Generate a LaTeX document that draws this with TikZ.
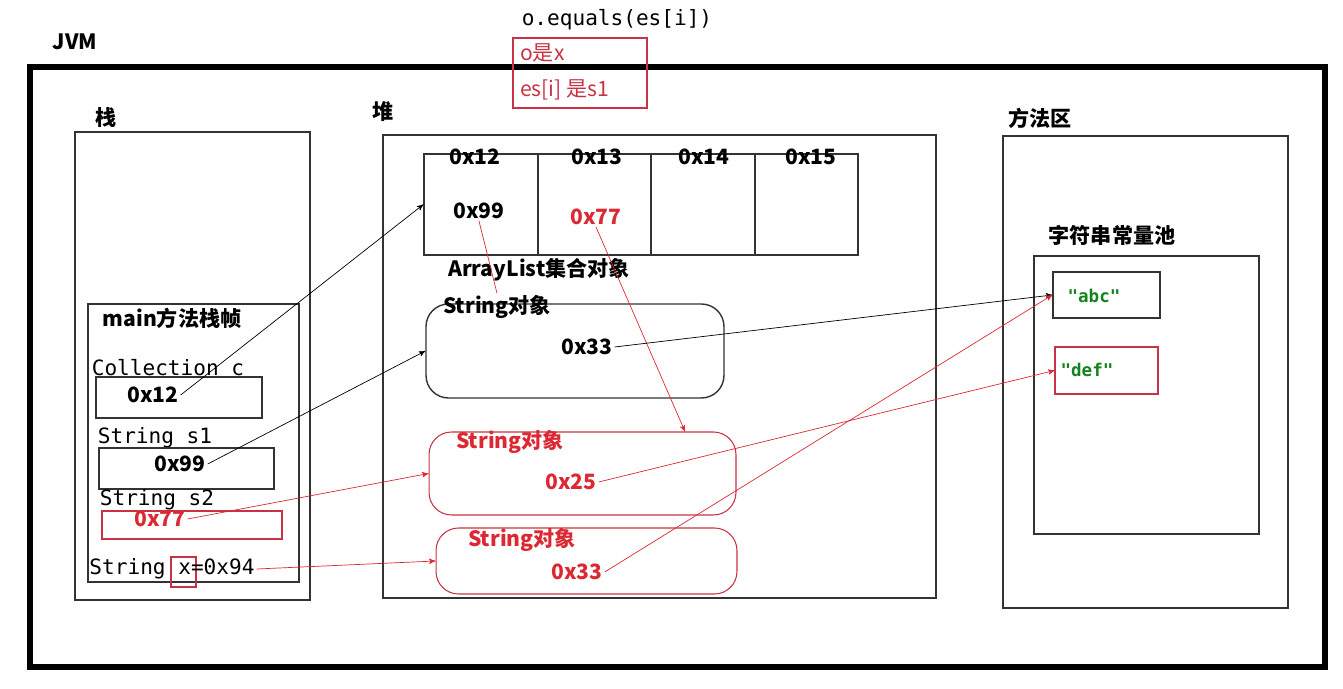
\documentclass[tikz,border=0pt]{standalone}
\usepackage{fontspec}
\setmainfont{Noto Sans CJK SC}
\newfontfamily\monofont{DejaVu Sans Mono}
\usetikzlibrary{arrows}
\definecolor{memred}{RGB}{220,40,50}
\definecolor{boxred}{RGB}{200,50,70}
\definecolor{strgreen}{RGB}{20,130,30}
\tikzstyle{frame} = [rectangle, draw=black!80, line width=0.8pt, inner sep=0pt]
\tikzstyle{redframe} = [rectangle, draw=boxred, line width=0.6pt, inner sep=0pt]
\tikzstyle{strobj} = [rectangle, rounded corners=0.45cm, draw=black!80, line width=0.8pt, inner sep=0pt]
\tikzstyle{redobj} = [rectangle, rounded corners=0.45cm, draw=boxred, line width=0.6pt, inner sep=0pt]
\tikzstyle{lbl} = [font=\large\bfseries, inner sep=1pt]
\tikzstyle{redlbl} = [font=\large\bfseries, text=memred, inner sep=1pt]
\tikzstyle{mono} = [font=\monofont\large, inner sep=1pt]
\tikzstyle{arrow} = [->,>=stealth', thin]
\tikzstyle{redarrow} = [->,>=stealth', thin, draw=memred]
\begin{document}
\begin{tikzpicture}[x=0.02cm, y=-0.02cm]
	\useasboundingbox (0,0) rectangle (1343,689);
	
	\node (jvm) [lbl] at (75,42) {JVM};
	\node (outer) [rectangle, draw=black, line width=3.4pt, minimum width=25.9cm, minimum height=12cm] at (677.5,367) {};
	\node (equalsCall) [mono] at (617,20) {o.equals(es[i])};
	\node (note) [redframe, minimum width=2.68cm, minimum height=1.4cm] at (580,73) {};
	\node (noteA) [text=boxred, anchor=west, font=\large] at (514,53) {o是x};
	\node (noteB) [text=boxred, anchor=west, font=\large] at (514,90) {es[i] 是s1};
	
	% stack
	\node (stackLbl) [lbl] at (106,118) {栈};
	\node (stack) [frame, minimum width=4.7cm, minimum height=9.36cm] at (192.5,366) {};
	\node (mainFrame) [frame, minimum width=4.22cm, minimum height=5.56cm] at (193.5,443) {};
	\node (mainLbl) [lbl] at (172,318) {main方法栈帧};
	\node (collLbl) [mono] at (168,368) {Collection c};
	\node (boxC) [frame, minimum width=3.32cm, minimum height=0.82cm] at (179,397.5) {};
	\node (valC) [lbl] at (153,395) {0x12};
	\node (s1Lbl) [mono] at (155,438) {String s1};
	\node (boxS1) [frame, minimum width=3.5cm, minimum height=0.82cm] at (186.5,468.5) {};
	\node (valS1) [lbl] at (180,464) {0x99};
	\node (s2Lbl) [mono] at (157,500) {String s2};
	\node (boxS2) [redframe, minimum width=3.6cm, minimum height=0.56cm] at (192,525) {};
	\node (valS2) [redlbl] at (160,519) {0x77};
	\node (xBox) [redframe, minimum width=0.5cm, minimum height=0.6cm] at (183.5,572) {};
	\node (xLbl) [mono] at (172,569) {String x=0x94};
	
	% heap
	\node (heapLbl) [lbl] at (383,112) {堆};
	\node (heap) [frame, minimum width=11.06cm, minimum height=9.26cm] at (659.5,366.5) {};
	\node (cellA) [frame, minimum width=2.28cm, minimum height=2.02cm] at (481,204.5) {};
	\node (cellB) [frame, minimum width=2.26cm, minimum height=2.02cm] at (594.5,204.5) {};
	\node (cellC) [frame, minimum width=2.08cm, minimum height=2.02cm] at (703,204.5) {};
	\node (cellD) [frame, minimum width=2.06cm, minimum height=2.02cm] at (806.5,204.5) {};
	\node (hdrA) [lbl] at (475,157) {0x12};
	\node (hdrB) [lbl] at (597,157) {0x13};
	\node (hdrC) [lbl] at (704,157) {0x14};
	\node (hdrD) [lbl] at (811,157) {0x15};
	\node (elemA) [lbl] at (479,211) {0x99};
	\node (elemB) [redlbl] at (596,217) {0x77};
	\node (listLbl) [lbl] at (539,270) {ArrayList集合对象};
	
	\node (strObjA) [strobj, minimum width=5.96cm, minimum height=1.88cm] at (575,351) {};
	\node (strLblA) [lbl] at (497,307) {String对象};
	\node (valA) [lbl] at (587,347) {0x33};
	\node (strObjB) [redobj, minimum width=6.14cm, minimum height=1.66cm] at (582.5,473.5) {};
	\node (strLblB) [redlbl] at (510,442) {String对象};
	\node (valB) [redlbl] at (571,482) {0x25};
	\node (strObjC) [redobj, minimum width=6.02cm, minimum height=1.32cm] at (586.5,561) {};
	\node (strLblC) [redlbl] at (522,540) {String对象};
	\node (valCc) [redlbl] at (577,572) {0x33};
	
	% method area
	\node (methodLbl) [lbl] at (1040,118) {方法区};
	\node (method) [frame, minimum width=5.7cm, minimum height=9.44cm] at (1145.5,372) {};
	\node (poolLbl) [lbl] at (1112,235) {字符串常量池};
	\node (pool) [frame, minimum width=4.5cm, minimum height=5.56cm] at (1146.5,395) {};
	\node (abcBox) [frame, minimum width=2.14cm, minimum height=0.92cm] at (1106.5,295) {};
	\node (abc) [font=\monofont\bfseries, text=strgreen] at (1094,296) {"abc"};
	\node (defBox) [redframe, minimum width=2.06cm, minimum height=0.94cm] at (1106.5,370.5) {};
	\node (def) [font=\monofont\bfseries, text=strgreen] at (1087,370) {"def"};
	
	\draw [arrow] (valC.east) -- (cellA.west);
	\draw [arrow] (valS1.east) -- (strObjA.west);
	\draw [redarrow] (valS2.east) -- (strObjB.west);
	\draw [redarrow] (xLbl.east) -- (strObjC.west);
	\draw [thin, memred] (elemA.south) -- (strLblA.north);
	\draw [redarrow] (elemB.south) -- (strObjB.north -| 685,0);
	\draw [arrow] (valA.east) -- (abcBox.west);
	\draw [redarrow] (valB.east) -- (defBox.west);
	\draw [redarrow] (valCc.east) -- (abcBox.west);
\end{tikzpicture}
\end{document}
